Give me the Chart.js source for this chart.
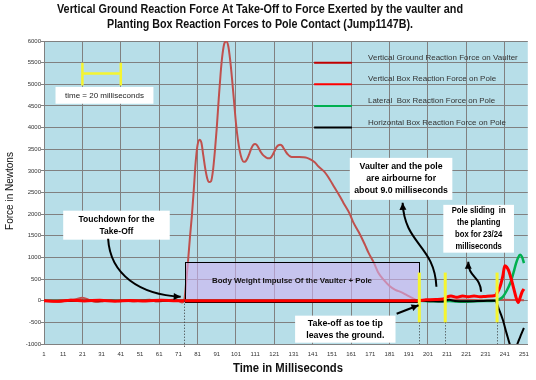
<!DOCTYPE html>
<html><head><meta charset="utf-8">
<script src="https://cdn.jsdelivr.net/npm/chart.js@4.4.1/dist/chart.umd.min.js"></script>
<style>html,body{margin:0;padding:0;background:#fff;}canvas{display:block;}</style>
</head><body>
<canvas id="c" width="536" height="380"></canvas>
<script>
// ---------------- DATA ----------------
const titleLines = ['Vertical Ground Reaction Force At Take-Off to Force Exerted by the vaulter and',
                    'Planting Box Reaction Forces to Pole Contact (Jump1147B).'];
const xTitle = 'Time in Milliseconds';
const yTitle = 'Force in Newtons';
const seriesNames = ['Vertical Ground Reaction Force on Vaulter','Vertical Box Reaction Force on Pole',
                     'Lateral  Box Reaction Force on Pole','Horizontal Box Reaction Force on Pole'];
const xTickLabels = [1,11,21,31,41,51,61,71,81,91,101,111,121,131,141,151,161,171,181,191,201,211,221,231,241,251];

const timeVGRF = [1,5,9,13,17,21,25,28,32,36,40,44,48,52,56,60,64,68,71,73,
  74,75,76,77,78,79,80,81,82,83,84,85,86,87,88,89,90,91,92,93,94,95,96,97,98,99,100,101,102,103,
  104,105,106,107,108,109,110,111,112,113,114,115,116,117,118,119,120,121,122,123,124,125,126,127,128,129,130,
  132,134,136,138,140,142,144,147,150,152,155,157,160,162,165,168,170,173,175,178,181,184,187,190,193,196,
  200,210,220,230,240,251];
const vgrf = [0,-20,-30,10,30,70,10,-30,-10,10,-10,0,-20,10,20,-20,0,20,0,-40,
  0,400,900,1450,1950,2550,3200,3600,3720,3650,3350,3050,2830,2740,2760,3000,3450,4000,4650,5250,
  5700,5950,5990,5880,5550,5100,4600,4100,3720,3450,3280,3210,3220,3290,3400,3520,3600,3620,3590,3510,
  3430,3370,3330,3300,3290,3300,3360,3450,3540,3590,3605,3580,3510,3440,3380,3340,3320,
  3320,3320,3315,3300,3260,3200,3100,2980,2790,2640,2420,2260,2030,1820,1580,1310,1110,860,660,480,340,250,200,130,60,0,
  10,20,20,10,20,10];

const timeBoxV = [1,8,15,22,30,38,46,54,62,70,196,200,205,209,211,213,216,219,222,225,228,231,234,236,
  237,238,239,240,241,242,243,244,245,246,247,248,249,250,251];
const boxV = [0,-10,10,-5,10,-10,5,-5,10,0,0,20,30,40,90,110,80,110,90,110,90,100,110,120,
  180,260,390,570,805,780,700,560,400,230,60,-40,70,200,270];

const timeLat = [1,196,202,208,212,216,220,225,230,236,238,240,242,244,245,246,247,248,249,250,251];
const lat = [0,0,-10,-15,-5,-20,-25,-15,-5,0,30,90,230,420,560,720,880,1000,1060,1010,870];

const timeHor = [1,196,202,208,212,215,220,225,230,236,238,240,242,244,246,248,249,250,251];
const hor = [0,0,-10,-20,20,-5,-15,-10,-5,0,-200,-440,-760,-1050,-1150,-950,-840,-730,-630];

// ---------------- ANNOTATIONS (data coordinates) ----------------
const notes = [
  {x0:11, x1:66.5, y0:2080, y1:1410, lines:['Touchdown for the','Take-Off'], w0:76},
  {x0:160.3, x1:213.7, y0:3300, y1:2330, lines:['Vaulter and the pole','are airbourne for','about 9.0 milliseconds'], w0:83},
  {x0:209, x1:245.8, y0:2215, y1:1110, lines:['Pole sliding  in','the planting','box for 23/24','milliseconds'], w0:54},
  {x0:131.8, x1:184.1, y0:-345, y1:-970, lines:['Take-off as toe tip','leaves the ground.'], w0:75}
];
const arrows = [
  [[34.4,1431],[35.5,600],[51,138],[72.2,92]],
  [[205.4,323],[204.4,1292],[188.8,1292],[187.8,2262]],
  [[228.7,208],[228.2,577],[222,531],[222,900]],
  [[184.7,-300],[196.1,-104]]
];
const impulseBox = {x0:74.5, x1:196.5, y0:900, y1:-20, text:'Body Weight Impulse Of the Vaulter + Pole', w:160};
const yellowX = [196.5, 210, 237];
const dottedX = [196.5, 210, 237];
const legendColors = ['#C00000','#FF0000','#00B050','#000000'];
const legendY = [5500,5000,4500,4000];
const legendW = [155,129,127,151];

const FONT = '"Liberation Sans", Arial, sans-serif';
const NARROW = '"Liberation Sans Narrow", "Liberation Sans", Arial, sans-serif';

function pts(xs, ys){ return xs.map((x,i)=>({x:x, y:ys[i]})); }

function arrowHead(ctx, fx, fy, tx, ty, len, hw){
  const a = Math.atan2(ty-fy, tx-fx);
  ctx.beginPath();
  ctx.moveTo(tx, ty);
  ctx.lineTo(tx - len*Math.cos(a) + hw*Math.sin(a), ty - len*Math.sin(a) - hw*Math.cos(a));
  ctx.lineTo(tx - len*Math.cos(a) - hw*Math.sin(a), ty - len*Math.sin(a) + hw*Math.cos(a));
  ctx.closePath(); ctx.fill();
}

const annot = {
  id:'annot',
  beforeDraw(chart){
    const {ctx, chartArea:a} = chart;
    ctx.save(); ctx.fillStyle = '#B7DEE8';
    ctx.fillRect(a.left, a.top, a.right-a.left, a.bottom-a.top); ctx.restore();
  },
  afterDatasetDraw(chart, args){
    if (args.index !== 0) return;
    const {ctx} = chart, X = v=>chart.scales.x.getPixelForValue(v), Y = v=>chart.scales.y.getPixelForValue(v);
    const b = impulseBox;
    ctx.save();
    const x0=X(b.x0), x1=X(b.x1), y0=Y(b.y0), y1=Y(b.y1);
    ctx.fillStyle = 'rgba(208,179,242,0.6)';
    ctx.fillRect(x0, y0, x1-x0, y1-y0);
    ctx.strokeStyle = '#000'; ctx.lineWidth = 1;
    ctx.strokeRect(Math.round(x0)+0.5, Math.round(y0)+0.5, Math.round(x1-x0), Math.round(y1-y0));
    ctx.fillStyle = '#111'; ctx.font = 'bold 8px '+FONT; ctx.textAlign='center'; ctx.textBaseline='middle';
    ctx.fillText(b.text, 292, Y(450), b.w);
    ctx.restore();
  },
  afterDraw(chart){
    const {ctx, chartArea:a} = chart, X = v=>chart.scales.x.getPixelForValue(v), Y = v=>chart.scales.y.getPixelForValue(v);
    ctx.save();
    // dotted lines
    ctx.strokeStyle = '#333'; ctx.lineWidth = 1; ctx.setLineDash([1,2]);
    ctx.beginPath(); ctx.moveTo(Math.round(X(74))+0.5, Y(0)); ctx.lineTo(Math.round(X(74))+0.5, a.bottom+3); ctx.stroke();
    dottedX.forEach(x=>{ ctx.beginPath(); ctx.moveTo(Math.round(X(x))+0.5, Y(-500)); ctx.lineTo(Math.round(X(x))+0.5, a.bottom); ctx.stroke(); });
    ctx.setLineDash([]);
    // yellow bars
    ctx.strokeStyle = '#F5F530'; ctx.lineWidth = 3;
    yellowX.forEach(x=>{ ctx.beginPath(); ctx.moveTo(X(x), Y(650)); ctx.lineTo(X(x), Y(-500)); ctx.stroke(); });
    // time scale bar
    ctx.lineWidth = 2.5;
    ctx.beginPath(); ctx.moveTo(X(21), Y(5250)); ctx.lineTo(X(41), Y(5250));
    ctx.moveTo(X(21), Y(5500)); ctx.lineTo(X(21), Y(4970));
    ctx.moveTo(X(41), Y(5500)); ctx.lineTo(X(41), Y(4970)); ctx.stroke();
    // time box
    ctx.fillStyle = '#fff'; ctx.fillRect(X(7), Y(4940), X(58)-X(7), Y(4550)-Y(4940));
    ctx.fillStyle = '#222'; ctx.font = '8px '+FONT; ctx.textAlign='center'; ctx.textBaseline='middle';
    ctx.fillText('time = 20 milliseconds', (X(7)+X(58))/2, (Y(4940)+Y(4550))/2, 83);
    // note boxes
    notes.forEach(n=>{
      const x0=X(n.x0), x1=X(n.x1), y0=Y(n.y0), y1=Y(n.y1);
      ctx.fillStyle = '#fff'; ctx.fillRect(x0, y0, x1-x0, y1-y0);
      ctx.fillStyle = '#000'; ctx.font = 'bold 9.5px '+FONT; ctx.textAlign='center'; ctx.textBaseline='middle';
      const k = Math.min(1, n.w0 / ctx.measureText(n.lines[0]).width);
      const lh = 12, cx=(x0+x1)/2, cy=(y0+y1)/2;
      n.lines.forEach((s,i)=>{
        ctx.save(); ctx.translate(cx, cy + (i-(n.lines.length-1)/2)*lh); ctx.scale(k,1);
        ctx.fillText(s, 0, 0); ctx.restore();
      });
    });
    // arrows
    ctx.strokeStyle = '#000'; ctx.fillStyle = '#000'; ctx.lineWidth = 2;
    arrows.forEach(p=>{
      const q = p.map(v=>[X(v[0]), Y(v[1])]);
      ctx.beginPath(); ctx.moveTo(q[0][0], q[0][1]);
      if (q.length === 4) ctx.bezierCurveTo(q[1][0],q[1][1],q[2][0],q[2][1],q[3][0],q[3][1]);
      else ctx.lineTo(q[1][0], q[1][1]);
      const e = q[q.length-1], f = q[q.length-2];
      // shorten line slightly so head is clean
      ctx.stroke();
      arrowHead(ctx, f[0], f[1], e[0], e[1], 7, 3.5);
    });
    // legend
    seriesNames.forEach((s,i)=>{
      const y = Y(legendY[i]);
      ctx.strokeStyle = legendColors[i]; ctx.lineWidth = 2;
      ctx.beginPath(); ctx.moveTo(X(141.7), y); ctx.lineTo(X(161.4), y); ctx.stroke();
      ctx.fillStyle = '#333'; ctx.font = '8px '+FONT; ctx.textAlign='left'; ctx.textBaseline='middle';
      ctx.fillText(s, X(169.8), y-5, legendW[i]);
    });
    // titles
    ctx.fillStyle = '#111'; ctx.textAlign='center'; ctx.textBaseline='middle';
    ctx.font = 'bold 12px '+FONT;
    ctx.fillText(titleLines[0], 260, 10, 406);
    ctx.fillText(titleLines[1], 260, 25, 306);
    ctx.font = 'bold 12px '+FONT;
    ctx.fillText(xTitle, 288, 369, 110);
    ctx.save(); ctx.translate(10, 191); ctx.rotate(-Math.PI/2);
    ctx.font = '10px '+FONT; ctx.fillText(yTitle, 0, 0, 80); ctx.restore();
    ctx.restore();
  }
};

new Chart(document.getElementById('c'), {
  type:'line',
  data:{ datasets:[
    {label:seriesNames[0], data:pts(timeVGRF, vgrf), borderColor:'#C0504D', borderWidth:2, order:3},
    {label:seriesNames[1], data:pts(timeBoxV, boxV), borderColor:'#FF0000', borderWidth:3, order:0},
    {label:seriesNames[2], data:pts(timeLat, lat), borderColor:'#00B050', borderWidth:2.5, order:2},
    {label:seriesNames[3], data:pts(timeHor, hor), borderColor:'#000000', borderWidth:2, order:1}
  ]},
  options:{
    responsive:false, animation:false, devicePixelRatio:1,
    elements:{ point:{radius:0}, line:{cubicInterpolationMode:'monotone', fill:false} },
    layout:{ padding:{top:41, right:6, left:0, bottom:0} },
    plugins:{ legend:{display:false}, title:{display:false}, tooltip:{enabled:false} },
    scales:{
      x:{ type:'linear', min:1, max:253,
        afterBuildTicks:s=>{ s.ticks = xTickLabels.map(v=>({value:v})); },
        afterFit:s=>{ s.height = 36; },
        grid:{ drawTicks:false, color:c=>(c.tick && c.tick.value!==1 && (c.tick.value-1)%20===0) ? '#808080' : 'rgba(0,0,0,0)' },
        border:{ display:true, color:'#808080' },
        ticks:{ autoSkip:false, maxRotation:0, padding:7, color:'#333', font:{family:NARROW, size:6}, callback:v=>String(v) }
      },
      y:{ min:-1000, max:6000,
        afterFit:s=>{ s.width = 44; },
        grid:{ color:'#808080', tickLength:3 },
        border:{ display:true, color:'#808080' },
        ticks:{ stepSize:500, padding:0, color:'#333', font:{family:NARROW, size:6}, callback:v=>String(v) }
      }
    }
  },
  plugins:[annot]
});
</script></body></html>
